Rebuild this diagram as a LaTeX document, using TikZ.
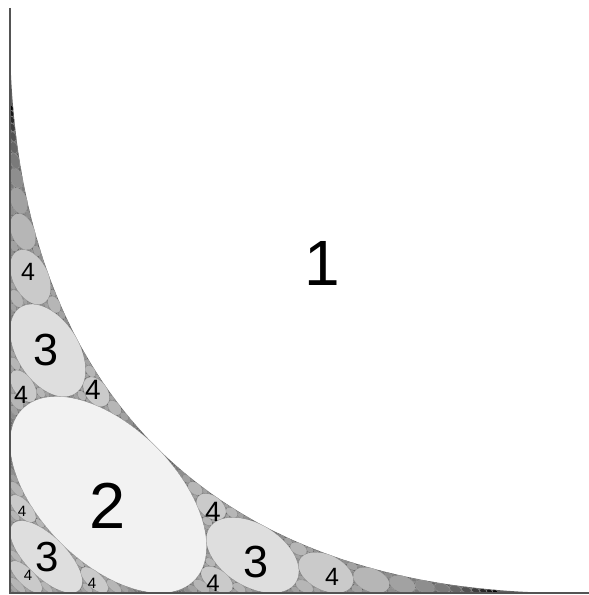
\documentclass[tikz,border=0pt]{standalone}
\usepackage{fontspec}
\setmainfont{Liberation Sans}
\ExplSyntaxOn
\cs_new_eq:NN \myfp \fp_eval:n
\ExplSyntaxOff
% geometry of the original angle (sin, cos of half angle, chain ratio)
\def\gqs{0.33}
\def\gqc{0.943981}
\def\gqq{0.503759}
% projective map to picture
\def\gqA{113.2}
\def\gqB{-0.7178}
\def\gqK{2.860548}
\def\gqcut{0.9}
\def\gqmaxgen{14}
\def\gqget#1,#2,#3\relax#4#5#6{\edef#4{#1}\edef#5{#2}\edef#6{#3}}
\newcommand\gqEllipseOf[3]{%
  \edef\gqca{\myfp{1+(\gqB)*(#1)}}%
  \edef\gqcb{\myfp{2*(\gqA)*(#1)}}%
  \edef\gqcc{\myfp{(\gqB)*(#2)}}%
  \edef\gqcd{\myfp{2*(\gqA)*(#2)}}%
  \edef\gqP{\myfp{(\gqca)^2+(\gqcc)^2-(#3)^2*(\gqB)^2}}%
  \edef\gqQ{\myfp{2*(\gqcc)/(\gqK)}}%
  \edef\gqR{\myfp{1/(\gqK)^2}}%
  \edef\gqS{\myfp{-2*(\gqca)*(\gqcb)-2*(\gqcc)*(\gqcd)+4*(\gqA)*(\gqB)*(#3)^2}}%
  \edef\gqT{\myfp{-2*(\gqcd)/(\gqK)}}%
  \edef\gqF{\myfp{(\gqcb)^2+(\gqcd)^2-4*(\gqA)^2*(#3)^2}}%
  \edef\gqD{\myfp{4*(\gqP)*(\gqR)-(\gqQ)^2}}%
  \edef\gqu{\myfp{(-2*(\gqR)*(\gqS)+(\gqQ)*(\gqT))/(\gqD)}}%
  \edef\gqv{\myfp{(-2*(\gqP)*(\gqT)+(\gqQ)*(\gqS))/(\gqD)}}%
  \edef\gqFp{\myfp{(\gqF)+((\gqS)*(\gqu)+(\gqT)*(\gqv))/2}}%
  \edef\gqm{\myfp{((\gqP)+(\gqR))/2}}%
  \edef\gqn{\myfp{sqrt(((\gqP)-(\gqR))^2/4+(\gqQ)^2/4)}}%
  \edef\gqeRa{\myfp{round(sqrt(abs((\gqFp)/((\gqm)+(\gqn)))/2),3)}}%
  \edef\gqeRb{\myfp{round(sqrt(abs((\gqFp)/((\gqm)-(\gqn)))/2),3)}}%
  \edef\gqePhi{\myfp{round(atand(\gqQ,(\gqP)-(\gqR))/2+45,3)}}%
  \edef\gqeX{\myfp{round(10+((\gqu)-(\gqv))/2,3)}}%
  \edef\gqeY{\myfp{round(2+((\gqu)+(\gqv))/2,3)}}%
}
\newcommand\gqDoCircle[4]{%
  \gqEllipseOf{#1}{#2}{#3}%
  \def\gqok{0}%
  \ifnum#4>\gqmaxgen\relax\else
    \ifdim\gqeRb pt<\gqcut pt\else
      \def\gqok{1}%
      \edef\gqlev{\myfp{round(min(1,max(0,(282-20*#4)/255)),4)}}%
      \definecolor{gqcol}{gray}{\gqlev}%
      \path[disc,fill=gqcol,shift={(\gqeX,\gqeY)},rotate=\gqePhi] (0,0) ellipse [x radius=\gqeRa pt,y radius=\gqeRb pt];%
    \fi
  \fi}
\newcommand\gqChain[2]{%
  \begingroup
  \edef\gqnd{\myfp{(\gqq)*(#1)}}%
  \edef\gqnr{\myfp{(\gqs)*(\gqq)*(#1)}}%
  \edef\gqor{\myfp{(\gqs)*(#1)}}%
  \gqDoCircle{\gqnd}{0}{\gqnr}{#2}%
  \ifnum\gqok=1
    \edef\gqnext{%
      \noexpand\gqChain{\gqnd}{\the\numexpr#2+1\relax}%
      \noexpand\gqLine{1}{#1,0,\gqor}{\gqnd,0,\gqnr}{\the\numexpr#2+1\relax}%
      \noexpand\gqLine{2}{#1,0,\gqor}{\gqnd,0,\gqnr}{\the\numexpr#2+1\relax}%
    }\gqnext
  \fi
  \endgroup}
\newcommand\gqLine[4]{%
  \begingroup
  \gqget#2\relax\gqxa\gqya\gqra
  \gqget#3\relax\gqxb\gqyb\gqrb
  \ifnum#1=1 \edef\gqlx{\gqc}\edef\gqly{-\gqs}\edef\gqmx{\gqs}\edef\gqmy{\gqc}%
  \else \edef\gqlx{\gqc}\edef\gqly{\gqs}\edef\gqmx{\gqs}\edef\gqmy{-\gqc}\fi
  \edef\gqnr{\myfp{(\gqra)*(\gqrb)/(sqrt(\gqra)+sqrt(\gqrb))^2}}%
  \edef\gqta{\myfp{(\gqxa)*(\gqlx)+(\gqya)*(\gqly)}}%
  \edef\gqtb{\myfp{(\gqxb)*(\gqlx)+(\gqyb)*(\gqly)}}%
  \edef\gqnt{\myfp{(\gqta)+sign((\gqtb)-(\gqta))*2*sqrt((\gqra)*(\gqnr))}}%
  \edef\gqnx{\myfp{(\gqnt)*(\gqlx)+(\gqnr)*(\gqmx)}}%
  \edef\gqny{\myfp{(\gqnt)*(\gqly)+(\gqnr)*(\gqmy)}}%
  \gqDoCircle{\gqnx}{\gqny}{\gqnr}{#4}%
  \ifnum\gqok=1
    \edef\gqnext{%
      \noexpand\gqLine{#1}{#2}{\gqnx,\gqny,\gqnr}{\the\numexpr#4+1\relax}%
      \noexpand\gqLine{#1}{\gqnx,\gqny,\gqnr}{#3}{\the\numexpr#4+1\relax}%
      \noexpand\gqCirc{#2}{#3}{\gqnx,\gqny,\gqnr}{\the\numexpr#4+1\relax}%
    }\gqnext
  \fi
  \endgroup}
\newcommand\gqCirc[4]{%
  \begingroup
  \gqget#1\relax\gqxa\gqya\gqra
  \gqget#2\relax\gqxb\gqyb\gqrb
  \gqget#3\relax\gqxc\gqyc\gqrc
  \edef\gqnr{\myfp{1/(1/(\gqra)+1/(\gqrb)+1/(\gqrc)+2*sqrt(1/((\gqra)*(\gqrb))+1/((\gqrb)*(\gqrc))+1/((\gqrc)*(\gqra))))}}%
  \edef\gqaa{\myfp{2*((\gqxb)-(\gqxa))}}%
  \edef\gqab{\myfp{2*((\gqyb)-(\gqya))}}%
  \edef\gqba{\myfp{2*((\gqxc)-(\gqxa))}}%
  \edef\gqbb{\myfp{2*((\gqyc)-(\gqya))}}%
  \edef\gqha{\myfp{(\gqxb)^2+(\gqyb)^2-(\gqxa)^2-(\gqya)^2-((\gqrb)+(\gqnr))^2+((\gqra)+(\gqnr))^2}}%
  \edef\gqhb{\myfp{(\gqxc)^2+(\gqyc)^2-(\gqxa)^2-(\gqya)^2-((\gqrc)+(\gqnr))^2+((\gqra)+(\gqnr))^2}}%
  \edef\gqdet{\myfp{(\gqaa)*(\gqbb)-(\gqab)*(\gqba)}}%
  \edef\gqnx{\myfp{((\gqha)*(\gqbb)-(\gqab)*(\gqhb))/(\gqdet)}}%
  \edef\gqny{\myfp{((\gqaa)*(\gqhb)-(\gqha)*(\gqba))/(\gqdet)}}%
  \gqDoCircle{\gqnx}{\gqny}{\gqnr}{#4}%
  \ifnum\gqok=1
    \edef\gqnext{%
      \noexpand\gqCirc{#1}{#2}{\gqnx,\gqny,\gqnr}{\the\numexpr#4+1\relax}%
      \noexpand\gqCirc{#1}{#3}{\gqnx,\gqny,\gqnr}{\the\numexpr#4+1\relax}%
      \noexpand\gqCirc{#2}{#3}{\gqnx,\gqny,\gqnr}{\the\numexpr#4+1\relax}%
    }\gqnext
  \fi
  \endgroup}
\definecolor{gapfill}{gray}{0.38}
\definecolor{edgeline}{gray}{0.33}
\begin{document}
\begin{tikzpicture}[x=1pt,y=1pt,
  disc/.style={draw=black!35,line width=0.2pt},
  labsz/.style={inner sep=0pt,font=\fontsize{#1}{#1}\selectfont},
  axisline/.style={draw=edgeline,line width=1.1pt}]
\useasboundingbox (0,0) rectangle (589,595);
\fill[white] (0,0) rectangle (589,595);
\fill[gapfill] (10,2) -- plot[domain=250.73:109.27,samples=260]
  ({10+113.2*((1+0.33*cos(\x))-0.943981*sin(\x))/(1-0.7178*(1+0.33*cos(\x)))},
   {2+113.2*((1+0.33*cos(\x))+0.943981*sin(\x))/(1-0.7178*(1+0.33*cos(\x)))}) -- cycle;
\gqChain{1}{2}
\coordinate (corner) at (10,2);
\coordinate (topend) at (10,587);
\coordinate (rightend) at (589,2);
\draw[axisline] (topend) -- (corner) -- (rightend);
\node[labsz=64] (l1) at (322,332) {1};
\node[labsz=65] (l2) at (108,89) {2};
\node[labsz=45] (l3a) at (46,245) {3};
\node[labsz=45] (l3b) at (256,33) {3};
\node[labsz=42] (l3c) at (47,38) {3};
\node[labsz=25] (l4a) at (28,323) {4};
\node[labsz=25] (l4b) at (21,200) {4};
\node[labsz=28] (l4c) at (93,205) {4};
\node[labsz=28] (l4d) at (213,83) {4};
\node[labsz=24] (l4e) at (213,12) {4};
\node[labsz=25] (l4f) at (332,18) {4};
\node[labsz=15] (l4g) at (22,84) {4};
\node[labsz=15] (l4h) at (28,20) {4};
\node[labsz=15] (l4i) at (92,12) {4};
\end{tikzpicture}
\end{document}
